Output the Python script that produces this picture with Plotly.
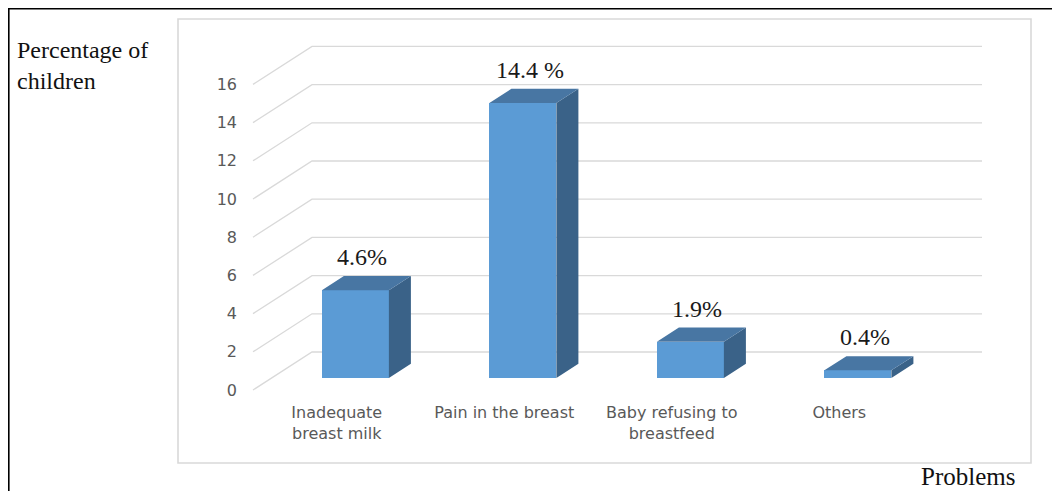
import plotly.graph_objects as go

# ---------------- data ----------------
categories = ["Inadequate<br>breast milk", "Pain in the breast",
              "Baby refusing to<br>breastfeed", "Others"]
values = [4.6, 14.4, 1.9, 0.4]
value_labels = ["4.6%", "14.4 %", "1.9%", "0.4%"]
y_ticks = [0, 2, 4, 6, 8, 10, 12, 14, 16]
y_title = "Percentage of<br>children"
x_title = "Problems"

# ---------------- geometry / projection ----------------
PAGE_OFF = 8            # the page body margin shifts the figure by this much
W, H = 1060 - PAGE_OFF, 491 - PAGE_OFF


def px(p):
    """convert a page pixel position to a figure pixel position"""
    return p - PAGE_OFF


CAT_PX = 167.5          # pixels per category slot
VAL_PX = 19.1           # pixels per value unit
FLOOR_X0_PX = px(253)   # front-left floor corner
FLOOR_Y0_PX = px(390)
DEPTH_DX = 59 / CAT_PX  # full floor depth, in x units
DEPTH_DY = 38 / VAL_PX  # full floor depth, in value units
BAR_PLANE = 0.316       # depth fraction of the bar front faces
BAR_DEPTH = 0.373       # bar thickness as depth fraction
BAR_WIDTH = 0.4

x_range = [(0 - FLOOR_X0_PX) / CAT_PX - 0.5, (W - FLOOR_X0_PX) / CAT_PX - 0.5]
y_range = [(FLOOR_Y0_PX - H) / VAL_PX, FLOOR_Y0_PX / VAL_PX]

FRONT = "#5B9BD5"
TOP = "#4876A3"
SIDE = "#3A6288"
GRID = "#D9D9D9"
TICK_COLOR = "#595959"
SERIF = "Liberation Serif, Times New Roman, serif"

n = len(values)
bar_x = [i + BAR_PLANE * DEPTH_DX for i in range(n)]
bar_base = BAR_PLANE * DEPTH_DY
bdx = BAR_DEPTH * DEPTH_DX
bdy = BAR_DEPTH * DEPTH_DY

fig = go.Figure()

# front faces
fig.add_trace(go.Bar(
    x=bar_x, y=values, base=[bar_base] * n, width=BAR_WIDTH,
    marker=dict(color=FRONT, line=dict(width=0)),
    hoverinfo="skip", showlegend=False,
))

# top and side faces (projected from the data values)
top_x, top_y, side_x, side_y = [], [], [], []
for xc, v in zip(bar_x, values):
    xl, xr = xc - BAR_WIDTH / 2, xc + BAR_WIDTH / 2
    yb, yt = bar_base, bar_base + v
    top_x += [xl, xl + bdx, xr + bdx, xr, xl, None]
    top_y += [yt, yt + bdy, yt + bdy, yt, yt, None]
    side_x += [xr, xr, xr + bdx, xr + bdx, xr, None]
    side_y += [yb, yt, yt + bdy, yb + bdy, yb, None]

fig.add_trace(go.Scatter(x=side_x, y=side_y, mode="lines", fill="toself",
                         fillcolor=SIDE, line=dict(width=0, color=SIDE),
                         hoverinfo="skip", showlegend=False))
fig.add_trace(go.Scatter(x=top_x, y=top_y, mode="lines", fill="toself",
                         fillcolor=TOP, line=dict(width=0, color=TOP),
                         hoverinfo="skip", showlegend=False))

# wall gridlines (front diagonal + back wall)
shapes = []
for t in y_ticks:
    x0, y0 = -0.5, t
    x1, y1 = -0.5 + DEPTH_DX, t + DEPTH_DY
    x2 = n - 0.5 + DEPTH_DX
    shapes.append(dict(type="path", xref="x", yref="y", layer="below",
                       path=f"M {x0},{y0} L {x1},{y1} L {x2},{y1}",
                       line=dict(color=GRID, width=1.3)))

# chart area border (light gray) and outer black frame
shapes.append(dict(type="rect", xref="paper", yref="paper",
                   x0=px(178) / W, x1=px(1031) / W,
                   y0=(H - px(463)) / H, y1=(H - px(19)) / H,
                   line=dict(color="#D9D9D9", width=1.6), layer="below"))
shapes.append(dict(type="rect", xref="paper", yref="paper",
                   x0=0.6 / W, x1=1.05, y0=-0.05, y1=(H - 0.6) / H,
                   line=dict(color="#000000", width=2), layer="above"))

annotations = []
# data labels
for xc, v, lab in zip(bar_x, values, value_labels):
    annotations.append(dict(
        x=xc + 0.3 * bdx, y=bar_base + v + bdy / 2, xref="x", yref="y",
        text=lab, showarrow=False, yshift=26, xanchor="center", yanchor="middle",
        font=dict(family=SERIF, size=24, color="#1a1a1a"),
    ))
# axis titles
annotations.append(dict(
    x=px(15) / W, y=(H - px(65)) / H, xref="paper", yref="paper",
    text=y_title, showarrow=False, xanchor="left", yanchor="middle", align="left",
    font=dict(family=SERIF, size=24, color="#111111"),
))
annotations.append(dict(
    x=px(968) / W, y=(H - px(476)) / H, xref="paper", yref="paper",
    text=x_title, showarrow=False, xanchor="center", yanchor="middle",
    font=dict(family=SERIF, size=25, color="#111111"),
))

fig.update_layout(
    width=W, height=H,
    margin=dict(l=0, r=0, t=0, b=0),
    paper_bgcolor="white", plot_bgcolor="white",
    showlegend=False,
    shapes=shapes, annotations=annotations,
    bargap=0,
    xaxis=dict(
        range=x_range, type="linear", anchor="free",
        position=(H - FLOOR_Y0_PX) / H,
        tickmode="array", tickvals=list(range(n)), ticktext=categories,
        showgrid=False, zeroline=False, showline=False, ticks="",
        ticklabelstandoff=11, automargin=False, fixedrange=True,
        tickfont=dict(family="DejaVu Sans, sans-serif", size=16, color=TICK_COLOR),
    ),
    yaxis=dict(
        range=y_range, anchor="free", position=FLOOR_X0_PX / W,
        tickmode="array", tickvals=y_ticks, ticktext=[str(t) for t in y_ticks],
        showgrid=False, zeroline=False, showline=False, ticks="",
        ticklabelstandoff=16, automargin=False, fixedrange=True,
        tickfont=dict(family="DejaVu Sans, sans-serif", size=16, color=TICK_COLOR),
    ),
)

fig.write_html("out.html")
